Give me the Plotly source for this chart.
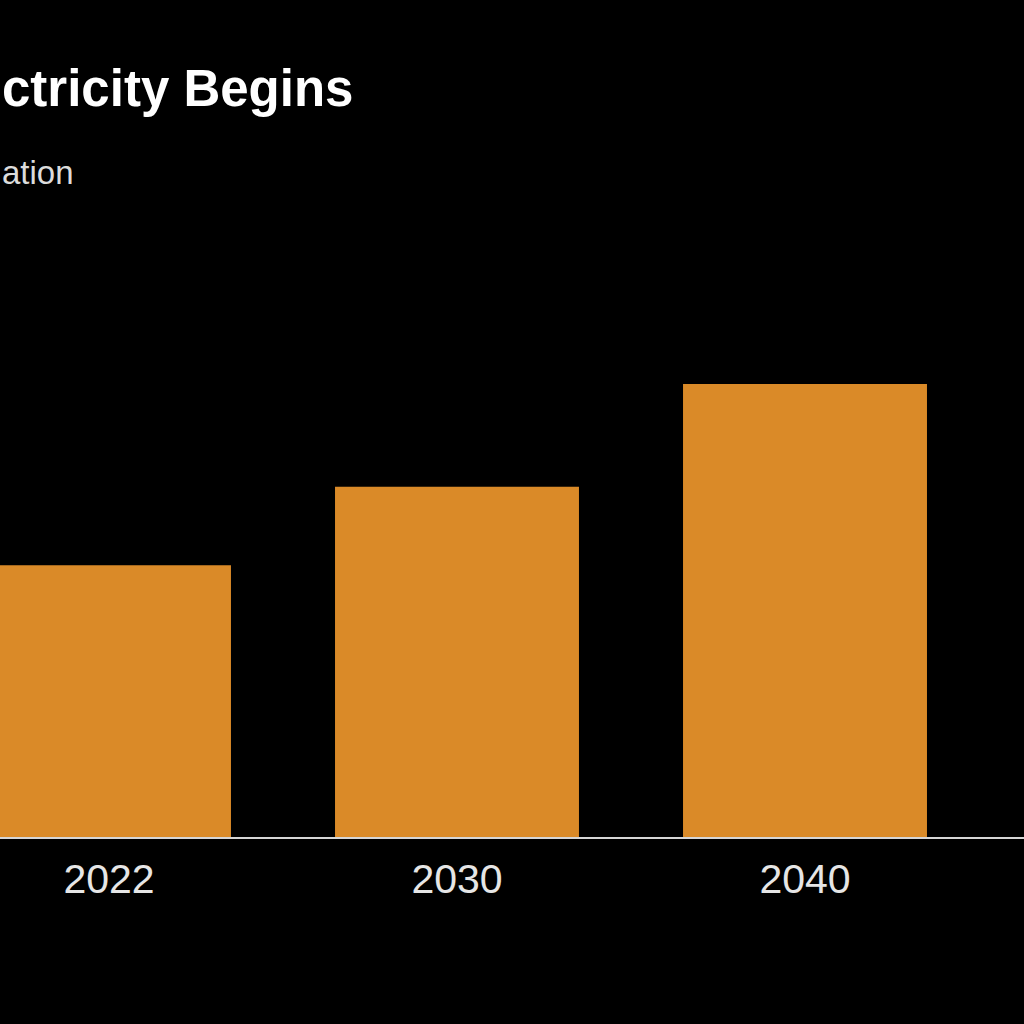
import plotly.graph_objects as go

# Data (arbitrary units, 2040 = 100)
years = ["2022", "2030", "2040"]
values = [60, 77.3, 100]

title_text = "ctricity Begins"
subtitle_text = "ation"

BAR = "#DA8A28"
FONT = "Liberation Sans, Arial, sans-serif"

fig = go.Figure(
    go.Bar(
        x=years,
        y=values,
        marker=dict(color=BAR, line=dict(width=0)),
        hoverinfo="skip",
    )
)

fig.update_layout(
    width=1024,
    height=1024,
    paper_bgcolor="black",
    plot_bgcolor="black",
    margin=dict(l=0, r=0, t=237, b=187),
    bargap=0.299,
    showlegend=False,
    font=dict(family=FONT, color="#e6e6e6"),
)

fig.update_xaxes(
    type="category",
    range=[-0.3132, 2.6293],
    showgrid=False,
    zeroline=False,
    showline=True,
    linecolor="#d6d6d6",
    linewidth=2,
    ticks="",
    ticklabelstandoff=5,
    tickfont=dict(size=41, color="#e6e6e6", family=FONT),
)
fig.update_yaxes(
    range=[0, 132.45],
    showgrid=False,
    zeroline=False,
    showticklabels=False,
    showline=False,
)

fig.add_annotation(
    text="<b>" + title_text + "</b>",
    xref="paper", yref="paper",
    x=0, y=1.248,
    xanchor="left", yanchor="middle",
    showarrow=False,
    font=dict(size=51, color="white", family=FONT),
)
fig.add_annotation(
    text=subtitle_text,
    xref="paper", yref="paper",
    x=0, y=1.108,
    xanchor="left", yanchor="middle",
    showarrow=False,
    font=dict(size=33, color="#dcdcdc", family=FONT),
)

fig.write_html(
    "out.html",
    config={"displayModeBar": False},
    post_script="document.body.style.margin='0';document.body.style.background='black';",
)
